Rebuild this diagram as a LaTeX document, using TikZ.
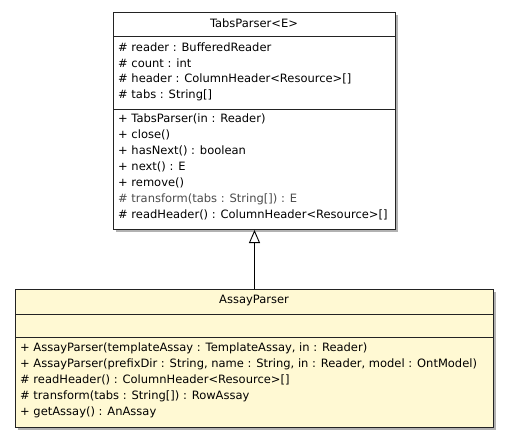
\documentclass[tikz,border=0pt]{standalone}
\usepackage{fontspec}
\setmainfont{DejaVu Sans}
\usetikzlibrary{arrows.meta,shadows}
\definecolor{classyellow}{RGB}{255,249,211}
\definecolor{boxline}{RGB}{35,35,35}
\tikzset{
  classbox/.style={draw=boxline, line width=1pt, rectangle, inner sep=0pt, anchor=north west,
    drop shadow={shadow xshift=2pt, shadow yshift=-2pt, fill=black!30, opacity=1}},
  member/.style={anchor=west, inner sep=0pt, font=\fontsize{11.5}{13}\selectfont, text=black},
  ctitle/.style={anchor=center, inner sep=0pt, font=\fontsize{11.5}{13}\selectfont, text=black},
  sep/.style={draw=boxline, line width=1pt},
  inherit/.style={draw=black, line width=0.9pt, -{Triangle[open, length=13pt, width=11pt, fill=white]}}
}
\begin{document}
\begin{tikzpicture}[x=1pt, y=-1pt]
\useasboundingbox (0,0) rectangle (509,437);
% TabsParser
\node[classbox, fill=white, minimum width=282pt, minimum height=217pt] (tabs) at (113,12) {};
\coordinate (ts1) at (113,36);
\coordinate (ts2) at (113,109);
\draw[sep] (ts1) -- (ts1 -| tabs.east);
\draw[sep] (ts2) -- (ts2 -| tabs.east);
\node[ctitle] (tabsname) at (254,23.5) {TabsParser<E>};
\node[member] (ta1) at (118,47) {\# reader : BufferedReader};
\node[member] (ta2) at (118,63) {\# count : int};
\node[member] (ta3) at (118,79) {\# header : ColumnHeader<Resource>[]};
\node[member] (ta4) at (118,95) {\# tabs : String[]};
\node[member] (tm1) at (118,119) {+ TabsParser(in : Reader)};
\node[member] (tm2) at (118,135) {+ close()};
\node[member] (tm3) at (118,151) {+ hasNext() : boolean};
\node[member] (tm4) at (118,167) {+ next() : E};
\node[member] (tm5) at (118,183) {+ remove()};
\node[member, text=black!70] (tm6) at (118,199) {\# transform(tabs : String[]) : E};
\node[member] (tm7) at (118,215) {\# readHeader() : ColumnHeader<Resource>[]};
% AssayParser
\node[classbox, fill=classyellow, minimum width=478pt, minimum height=138pt] (assay) at (15,289) {};
\coordinate (as1) at (15,314);
\coordinate (as2) at (15,337);
\draw[sep] (as1) -- (as1 -| assay.east);
\draw[sep] (as2) -- (as2 -| assay.east);
\node[ctitle] (assayname) at (254,300.5) {AssayParser};
\node[member] (am1) at (20,348) {+ AssayParser(templateAssay : TemplateAssay, in : Reader)};
\node[member] (am2) at (20,364) {+ AssayParser(prefixDir : String, name : String, in : Reader, model : OntModel)};
\node[member] (am3) at (20,380) {\# readHeader() : ColumnHeader<Resource>[]};
\node[member] (am4) at (20,396) {\# transform(tabs : String[]) : RowAssay};
\node[member] (am5) at (20,412) {+ getAssay() : AnAssay};
% generalization
\draw[inherit] (assay.north) -- (tabs.south);
\end{tikzpicture}
\end{document}
